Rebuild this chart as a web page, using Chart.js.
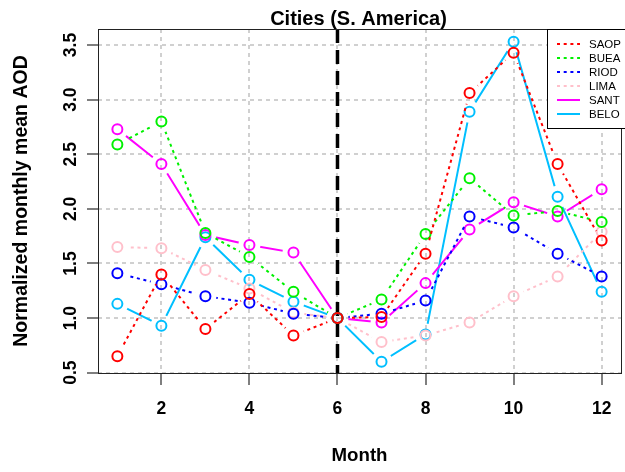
<!DOCTYPE html>
<html>
<head>
<meta charset="utf-8">
<script src="https://cdn.jsdelivr.net/npm/chart.js@4"></script>
<style>
  html, body { margin: 0; padding: 0; background: #fff; overflow: hidden; }
  #marco { width: 625px; height: 472px; overflow: hidden; }
</style>
</head>
<body>
<div id="marco"><canvas id="grafica" width="628" height="472"></canvas></div>
<script>
// datos
const meses = [1, 2, 3, 4, 5, 6, 7, 8, 9, 10, 11, 12];
const saop = [0.65, 1.40, 0.90, 1.22, 0.84, 1.00, 1.01, 1.59, 3.06, 3.43, 2.41, 1.71];
const buea = [2.59, 2.80, 1.78, 1.56, 1.24, 1.00, 1.17, 1.77, 2.28, 1.94, 1.98, 1.88];
const riod = [1.41, 1.31, 1.20, 1.14, 1.04, 1.00, 1.04, 1.16, 1.93, 1.83, 1.59, 1.38];
const lima = [1.65, 1.64, 1.44, 1.27, 1.05, 1.00, 0.78, 0.84, 0.96, 1.20, 1.38, 1.79];
const sant = [2.73, 2.41, 1.76, 1.67, 1.60, 1.00, 0.96, 1.32, 1.81, 2.06, 1.93, 2.18];
const belo = [1.13, 0.93, 1.74, 1.35, 1.15, 1.00, 0.60, 0.85, 2.89, 3.53, 2.11, 1.24];
const ciudades = ['SAOP', 'BUEA', 'RIOD', 'LIMA', 'SANT', 'BELO'];
const xTicks = [2, 4, 6, 8, 10, 12];
const yTicks = [0.5, 1.0, 1.5, 2.0, 2.5, 3.0, 3.5];
const titulo = 'Cities (S. America)';
const tituloY = 'Normalized monthly mean AOD';
const tituloX = 'Month';
const mesCorte = 6;

const series = [saop, buea, riod, lima, sant, belo];
const colores = ['#ff0000', '#00f000', '#0000ff', '#ffc0cb', '#ff00ff', '#00bfff'];
const punteado = [true, true, true, true, false, false];
const fuente = 'Liberation Sans, Arial, sans-serif';

const datasets = series.map((valores, i) => ({
  label: ciudades[i],
  data: valores.map((v, j) => ({ x: meses[j], y: v })),
  borderColor: colores[i],
  backgroundColor: 'transparent',
  borderWidth: 2,
  borderDash: punteado[i] ? [3, 3.7] : [],
  pointRadius: 5,
  pointBorderWidth: 2,
  pointBorderColor: colores[i],
  pointBackgroundColor: 'transparent',
  tension: 0,
  fill: false
}));

// huecos alrededor de los puntos (como type="b" de R)
const huecos = {
  id: 'huecos',
  beforeDatasetDraw(chart, args) {
    const ctx = chart.ctx;
    ctx.save();
    ctx.beginPath();
    ctx.rect(0, 0, chart.width, chart.height);
    args.meta.data.forEach(p => {
      ctx.moveTo(p.x + 11, p.y);
      ctx.arc(p.x, p.y, 11, 0, Math.PI * 2);
    });
    ctx.clip('evenodd');
  },
  afterDatasetDraw(chart, args) {
    const ctx = chart.ctx;
    ctx.restore();
    args.meta.data.forEach(p => p.draw(ctx, chart.chartArea));
  }
};

const extras = {
  id: 'extras',
  beforeDatasetsDraw(chart) {
    const ctx = chart.ctx;
    const a = chart.chartArea;
    const x = chart.scales.x.getPixelForValue(mesCorte);
    ctx.save();
    ctx.strokeStyle = '#000';
    ctx.lineWidth = 3.5;
    ctx.setLineDash([14, 7]);
    ctx.beginPath();
    ctx.moveTo(x, a.top);
    ctx.lineTo(x, a.bottom);
    ctx.stroke();
    ctx.restore();
  },
  afterDraw(chart) {
    const ctx = chart.ctx;
    const a = chart.chartArea;
    const ys = chart.scales.y;
    ctx.save();
    // caja
    ctx.setLineDash([]);
    ctx.strokeStyle = '#222';
    ctx.lineWidth = 1;
    ctx.strokeRect(a.left + 0.5, a.top + 0.5, a.right - a.left, a.bottom - a.top);
    // titulo
    ctx.fillStyle = '#000';
    ctx.font = 'bold 20px ' + fuente;
    ctx.textAlign = 'center';
    ctx.textBaseline = 'middle';
    ctx.fillText(titulo, (a.left + a.right) / 2 - 1, 19);
    // etiquetas del eje y (giradas)
    ctx.font = 'bold 17.5px ' + fuente;
    yTicks.forEach(v => {
      ctx.save();
      ctx.translate(71, ys.getPixelForValue(v));
      ctx.rotate(-Math.PI / 2);
      ctx.fillText(v.toFixed(1), 0, 0);
      ctx.restore();
    });
    // leyenda
    const lx = 547, ly = a.top;
    ctx.fillStyle = '#fff';
    ctx.fillRect(lx, ly, 85, 99);
    ctx.strokeStyle = '#000';
    ctx.strokeRect(lx + 0.5, ly + 0.5, 85, 99);
    ctx.font = '11.5px ' + fuente;
    ctx.textAlign = 'left';
    chart.data.datasets.forEach((d, i) => {
      const y = ly + 15 + i * 14;
      ctx.strokeStyle = d.borderColor;
      ctx.lineWidth = 2;
      ctx.setLineDash(d.borderDash);
      ctx.beginPath();
      ctx.moveTo(557, y);
      ctx.lineTo(580, y);
      ctx.stroke();
      ctx.setLineDash([]);
      ctx.fillStyle = '#000';
      ctx.fillText(d.label, 589, y + 0.5);
    });
    ctx.restore();
  }
};

const ctx = document.getElementById('grafica').getContext('2d');
const myChart = new Chart(ctx, {
  type: 'line',
  data: { datasets: datasets },
  options: {
    responsive: false,
    animation: false,
    events: [],
    layout: { padding: { top: 29, right: 1, left: 0, bottom: 0 } },
    plugins: { legend: { display: false }, title: { display: false }, tooltip: { enabled: false } },
    scales: {
      x: {
        type: 'linear',
        min: 0.56,
        max: 12.44,
        afterFit: s => { s.height = 99; },
        afterBuildTicks: s => { s.ticks = xTicks.map(v => ({ value: v })); },
        grid: { color: '#d0d0d0', lineWidth: 2, tickLength: 12, tickColor: '#555', tickWidth: 1.5 },
        border: { display: false, dash: [4, 4] },
        ticks: { color: '#000', font: { family: fuente, size: 17.5, weight: 'bold' }, padding: 14, maxRotation: 0 },
        title: { display: true, text: tituloX, color: '#000', font: { family: fuente, size: 18.7, weight: 'bold' }, padding: { top: 0, bottom: 5 } }
      },
      y: {
        type: 'linear',
        min: 0.497,
        max: 3.647,
        afterFit: s => { s.width = 98; },
        afterBuildTicks: s => { s.ticks = yTicks.map(v => ({ value: v })); },
        grid: { color: '#d0d0d0', lineWidth: 2, tickLength: 11, tickColor: '#555', tickWidth: 1.5 },
        border: { display: false, dash: [4, 4] },
        ticks: { display: false },
        title: { display: true, text: tituloY, color: '#000', font: { family: fuente, size: 19.5, weight: 'bold' }, padding: { top: 10, bottom: 0 } }
      }
    }
  },
  plugins: [huecos, extras]
});
</script>
</body>
</html>
